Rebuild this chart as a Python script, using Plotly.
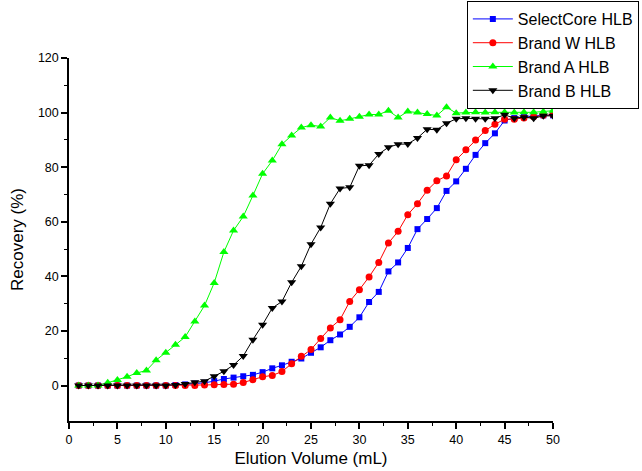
import plotly.graph_objects as go

volume = list(range(1, 51))

selectcore = [0, 0, 0, 0, 0, 0, 0, 0, 0, 0,
              0.2, 0.4, 0.7, 1.0, 1.6, 2.4, 2.9, 3.4, 3.9, 4.9,
              6.3, 7.4, 8.7, 9.9, 12.0, 14.0, 16.6, 18.7, 21.5, 25.0,
              30.6, 34.3, 41.8, 45.1, 50.4, 57.3, 61.0, 65.0, 71.3, 74.8,
              79.4, 84.5, 88.8, 92.4, 97.1, 98.0, 98.5, 98.8, 99.0, 99.0]

brand_w = [0, 0, 0, 0, 0, 0, 0, 0, 0, 0,
           0, 0, 0, 0.2, 0.3, 0.4, 0.5, 1.1, 2.1, 3.2,
           3.7, 5.1, 8.0, 10.7, 13.2, 17.2, 21.1, 24.1, 30.8, 35.1,
           39.8, 45.1, 52.2, 56.5, 62.6, 66.6, 71.5, 75.0, 76.8, 82.7,
           86.4, 90.0, 93.4, 95.7, 97.6, 97.6, 98.0, 98.5, 99.0, 99.3]

brand_a = [0, 0, 0, 1.0, 2.0, 3.2, 4.6, 5.5, 9.3, 12.0,
           14.9, 17.8, 23.5, 29.3, 37.6, 48.9, 56.8, 61.9, 69.6, 77.6,
           82.4, 88.4, 91.6, 94.5, 95.4, 94.9, 98.2, 97.0, 97.7, 98.5,
           99.3, 99.3, 100.7, 98.2, 100.4, 100.0, 99.5, 98.9, 102.0, 99.8,
           100.0, 100.1, 100.0, 100.1, 100.1, 100.0, 100.1, 100.1, 100.3, 100.7]

brand_b = [0, 0, 0, 0, 0, 0, 0, 0, 0, 0,
           0.2, 0.6, 1.2, 1.6, 3.4, 5.2, 7.5, 10.8, 16.8, 22.3,
           28.4, 30.8, 37.8, 43.7, 51.8, 57.9, 66.6, 72.2, 72.6, 80.5,
           80.7, 84.8, 87.3, 88.4, 88.5, 90.7, 93.9, 93.7, 96.1, 97.7,
           97.9, 97.7, 97.7, 97.9, 99.2, 97.9, 98.3, 97.9, 98.8, 98.8]

series = [
    ("SelectCore HLB", selectcore, "#0000FF", "square", 6),
    ("Brand W HLB", brand_w, "#FF0000", "circle", 7),
    ("Brand A HLB", brand_a, "#00FF00", "triangle-up", 8),
    ("Brand B HLB", brand_b, "#000000", "triangle-down", 8),
]

fig = go.Figure()
for name, vals, color, sym, sz in series:
    fig.add_trace(go.Scatter(
        x=volume, y=vals, name=name, mode="lines+markers",
        line=dict(color=color, width=1),
        marker=dict(symbol=sym, size=sz, color=color),
    ))

axis_font = dict(family="Liberation Sans, Arial, sans-serif", size=12.5, color="black")

fig.update_layout(
    width=642, height=471,
    margin=dict(l=69, r=89, t=58, b=50, autoexpand=False),
    plot_bgcolor="white", paper_bgcolor="white",
    font=dict(family="Liberation Sans, Arial, sans-serif", color="black"),
    showlegend=True,
    legend=dict(
        x=0.822, y=1.157, xanchor="left", yanchor="top",
        bordercolor="black", borderwidth=1, bgcolor="white",
        font=dict(size=16), itemwidth=40, tracegroupgap=0,
    ),
    xaxis=dict(
        range=[0, 50], tickvals=list(range(0, 51, 5)),
        showgrid=False, zeroline=False, showline=True, linecolor="black", linewidth=1.5,
        ticks="outside", ticklen=6, tickwidth=1.5, tickcolor="black",
        minor=dict(dtick=2.5, ticks="outside", ticklen=3, tickwidth=1, tickcolor="black"),
        tickfont=axis_font,
        title=dict(text="Elution Volume (mL)", font=dict(size=17), standoff=6),
    ),
    yaxis=dict(
        range=[-13, 120], tickvals=list(range(0, 121, 20)),
        showgrid=False, zeroline=False, showline=True, linecolor="black", linewidth=1.5,
        ticks="outside", ticklen=6, tickwidth=1.5, tickcolor="black",
        minor=dict(tickvals=list(range(10, 121, 20)), ticks="outside", ticklen=3, tickwidth=1, tickcolor="black"),
        tickfont=axis_font,
        title=dict(text="Recovery (%)", font=dict(size=17), standoff=10),
    ),
)

fig.write_html("out.html", config={"displayModeBar": False},
               post_script="document.body.style.margin='0px';")
